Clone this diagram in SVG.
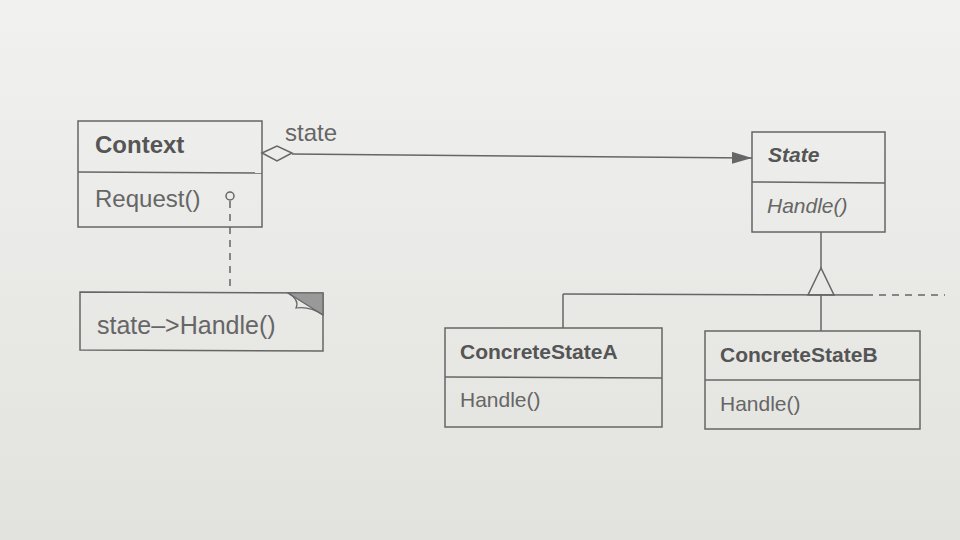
<svg xmlns="http://www.w3.org/2000/svg" width="960" height="540" viewBox="0 0 960 540">
<defs>
<linearGradient id="bg" x1="0" y1="0" x2="0" y2="1">
<stop offset="0" stop-color="#f1f1ef"/>
<stop offset="1" stop-color="#e2e2df"/>
</linearGradient>
<marker id="arr" viewBox="0 0 20 12" refX="20" refY="6" markerWidth="20" markerHeight="12" markerUnits="userSpaceOnUse" orient="auto">
<path d="M0,0 L20,6 L0,12 Z" fill="#666"/>
</marker>
<style>
.box{fill:none;stroke:#666;stroke-width:1.5}
.ln{fill:none;stroke:#666;stroke-width:1.5}
.dash{fill:none;stroke:#666;stroke-width:1.5;stroke-dasharray:7 6}
.t{font-family:"Liberation Sans",Arial,sans-serif;font-size:21px;fill:#666}
.l{font-size:24px}
.b{font-weight:bold;fill:#555}
.i{font-style:italic}
</style>
</defs>
<rect width="960" height="540" fill="url(#bg)"/>
<g id="connectors">
<path class="ln" d="M262,153 L277,146 L292,153 L277,161 Z" fill="none"/>
<line class="ln" x1="292" y1="154" x2="752" y2="158" marker-end="url(#arr)"/>
<text class="t l" x="285" y="141">state</text>
<circle cx="230" cy="196" r="4" class="ln"/>
<line class="dash" x1="230" y1="201" x2="230" y2="292"/>
<line class="ln" x1="821" y1="232" x2="821" y2="268"/>
<path class="ln" d="M821,268 L808,295 L834,295 Z"/>
<line class="ln" x1="563" y1="294" x2="873" y2="295"/>
<line class="dash" x1="879" y1="295" x2="945" y2="295"/>
<line class="ln" x1="563" y1="294" x2="563" y2="328"/>
<line class="ln" x1="821" y1="295" x2="821" y2="331"/>
</g>
<g id="context">
<rect class="box" x="78" y="121" width="184" height="106"/>
<line class="ln" x1="78" y1="172" x2="262" y2="173"/>
<text class="t l b" x="95" y="153">Context</text>
<text class="t l" x="95" y="207">Request()</text>
</g>
<g id="note">
<path class="ln" d="M80,292 L323,293 L323,351 L80,350 Z"/>
<path d="M288,293 L323,293 L323,315 Z" fill="#999" stroke="#666" stroke-width="1.2"/>
<path d="M288,293 Q300,300 296,308 Q310,306 323,315" fill="none" stroke="#666" stroke-width="1.2"/>
<text class="t" style="font-size:25px" x="97" y="334">state–&gt;Handle()</text>
</g>
<g id="state">
<rect class="box" x="752" y="132" width="133" height="100"/>
<line class="ln" x1="752" y1="182" x2="885" y2="183"/>
<text class="t b i" x="768" y="162">State</text>
<text class="t i" x="767" y="213">Handle()</text>
</g>
<g id="concreteStateA">
<rect class="box" x="445" y="328" width="217" height="99"/>
<line class="ln" x1="445" y1="377" x2="662" y2="378"/>
<text class="t b" x="460" y="359">ConcreteStateA</text>
<text class="t" x="460" y="407">Handle()</text>
</g>
<g id="concreteStateB">
<rect class="box" x="705" y="331" width="215" height="98"/>
<line class="ln" x1="705" y1="380" x2="920" y2="380"/>
<text class="t b" x="720" y="362">ConcreteStateB</text>
<text class="t" x="720" y="411">Handle()</text>
</g>
</svg>
